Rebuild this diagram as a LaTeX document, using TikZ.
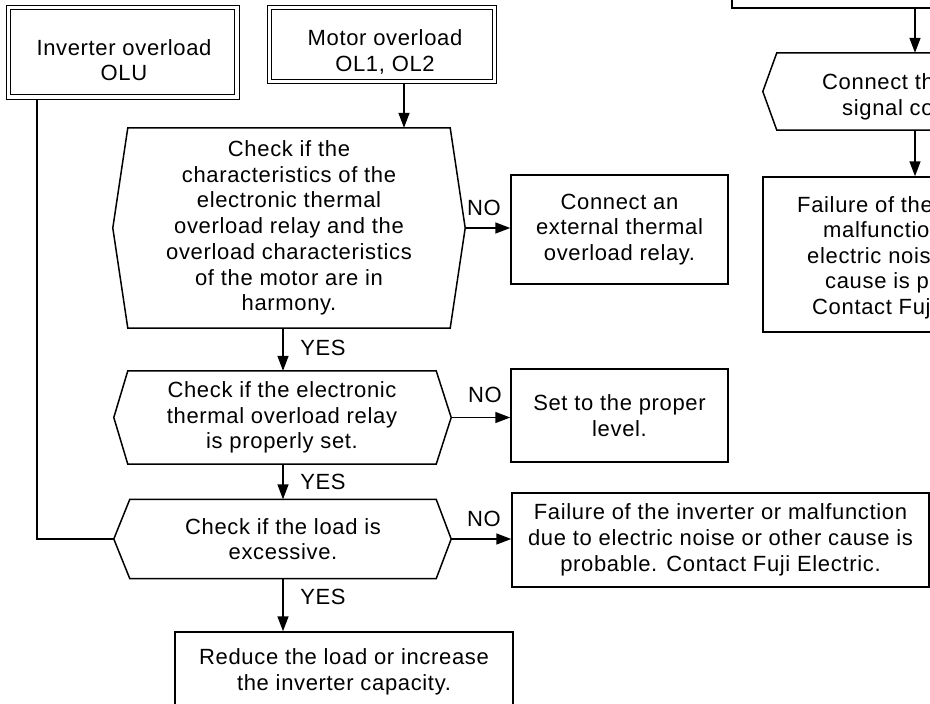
\documentclass[tikz,border=0pt]{standalone}
\usepackage{fontspec}
\setmainfont{Liberation Sans}[LetterSpace=3]
\usetikzlibrary{arrows.meta,calc}
\newcommand\fcfont{\fontsize{22pt}{25.7pt}\selectfont}
\begin{document}
\begin{tikzpicture}[x=1pt,y=-1pt,
  every node/.style={font=\fcfont, align=center, inner sep=0pt},
  ln/.style={line width=1.5pt},
  arr/.style={ln,-{Triangle[length=15pt,width=11pt]}},
  box/.style={draw, line width=1.5pt, rectangle},
  dbox/.style={draw, rectangle, line width=1.2pt, double, double distance=3.2pt, outer sep=2.8pt},
  hexcore/.style={rectangle, draw=none}
]
\useasboundingbox (0,0) rectangle (930,704);
\begin{scope}
\clip (0,0) rectangle (930,704);

% start boxes
\node[dbox, minimum width=228.5pt, minimum height=89.5pt] (inv) at (122.75,52.25) {};
\node (invt) at (124,60) {Inverter overload\\OLU};
\node[dbox, minimum width=225pt, minimum height=74pt] (mot) at (382,44.5) {};
\node (mott) at (385,52) {Motor overload\\OL1, OL2};

% decisions
\node[hexcore, minimum width=322pt, minimum height=200pt] (h1) at (289,228)
  {Check if the\\characteristics of the\\electronic thermal\\overload relay and the\\overload characteristics\\of the motor are in\\harmony.};
\node[hexcore, minimum width=308pt, minimum height=93pt] (h2) at (282,417.5)
  {Check if the electronic\\thermal overload relay\\is properly set.};
\node[hexcore, minimum width=306pt, minimum height=79pt] (h3) at (283,539)
  {Check if the load is\\excessive.};

\coordinate (h1L) at ($(h1.west)+(-15,0)$);
\coordinate (h1R) at ($(h1.east)+(15,0)$);
\coordinate (h2L) at ($(h2.west)+(-14,0)$);
\coordinate (h2R) at ($(h2.east)+(15,0)$);
\coordinate (h3L) at ($(h3.west)+(-16,0)$);
\coordinate (h3R) at ($(h3.east)+(15,0)$);
\draw[ln] (h1.north west) -- (h1.north east) -- (h1R) -- (h1.south east) -- (h1.south west) -- (h1L) -- cycle;
\draw[ln] (h2.north west) -- (h2.north east) -- (h2R) -- (h2.south east) -- (h2.south west) -- (h2L) -- cycle;
\draw[ln] (h3.north west) -- (h3.north east) -- (h3R) -- (h3.south east) -- (h3.south west) -- (h3L) -- cycle;

% actions
\node[box, minimum width=217pt, minimum height=109pt] (conn) at (619.5,229.5)
  {Connect an\\external thermal\\overload relay.};
\node[box, minimum width=217pt, minimum height=93pt] (set) at (619.5,415.5)
  {Set to the proper\\level.};
\node[box, minimum width=417pt, minimum height=94pt] (fail) at (720.5,540)
  {Failure of the inverter or malfunction\\due to electric noise or other cause is\\probable. Contact Fuji Electric.};
\node[box, minimum width=338pt, minimum height=79pt] (red) at (344,671.5)
  {Reduce the load or increase\\the inverter capacity.};

% top right (cut off at the picture's edge)
\node[box, minimum width=300pt, minimum height=80pt] (t0) at (882,-32) {};
\node[hexcore, minimum width=300pt, minimum height=77pt] (h0) at (927,91.5) {};
\coordinate (h0L) at ($(h0.west)+(-14,0)$);
\draw[ln] (h0.north east) -- (h0.north west) -- (h0L) -- (h0.south west) -- (h0.south east);
\node[anchor=base west] (h0a) at (822,89) {Connect the};
\node[anchor=base west] (h0b) at (842,115) {signal con};
\node[box, minimum width=300pt, minimum height=155pt] (b0) at (913,254.5) {};
\node[anchor=base west] (b0a) at (797,212) {Failure of the inverter};
\node[anchor=base west] (b0b) at (823,237.5) {malfunction};
\node[anchor=base west] (b0c) at (807,263) {electric noise};
\node[anchor=base west] (b0d) at (825,288.5) {cause is pr};
\node[anchor=base west] (b0e) at (812,314) {Contact Fuji};

% labels
\node (no1) at (484,208) {NO};
\node (no2) at (485,395) {NO};
\node (no3) at (484,519) {NO};
\node (yes1) at (323,348) {YES};
\node (yes2) at (323,482) {YES};
\node (yes3) at (323,597) {YES};

% connectors
\coordinate (mx) at (404,0);
\coordinate (vx) at (283,0);
\coordinate (ix) at (37,0);
\coordinate (rx) at (915,0);
\draw[arr] (mot.south -| mx) -- (h1.north -| mx);
\draw[ln] (inv.south -| ix) |- (h3L);
\draw[arr] (h1R) -- (h1R -| conn.west);
\draw[arr] (h2R) -- (h2R -| set.west);
\draw[arr] (h3R) -- (h3R -| fail.west);
\draw[arr] (h1.south -| vx) -- (h2.north -| vx);
\draw[arr] (h2.south -| vx) -- (h3.north -| vx);
\draw[arr] (h3.south -| vx) -- (red.north -| vx);
\draw[arr] (t0.south -| rx) -- (h0.north -| rx);
\draw[arr] (h0.south -| rx) -- (b0.north -| rx);
\end{scope}
\end{tikzpicture}
\end{document}
